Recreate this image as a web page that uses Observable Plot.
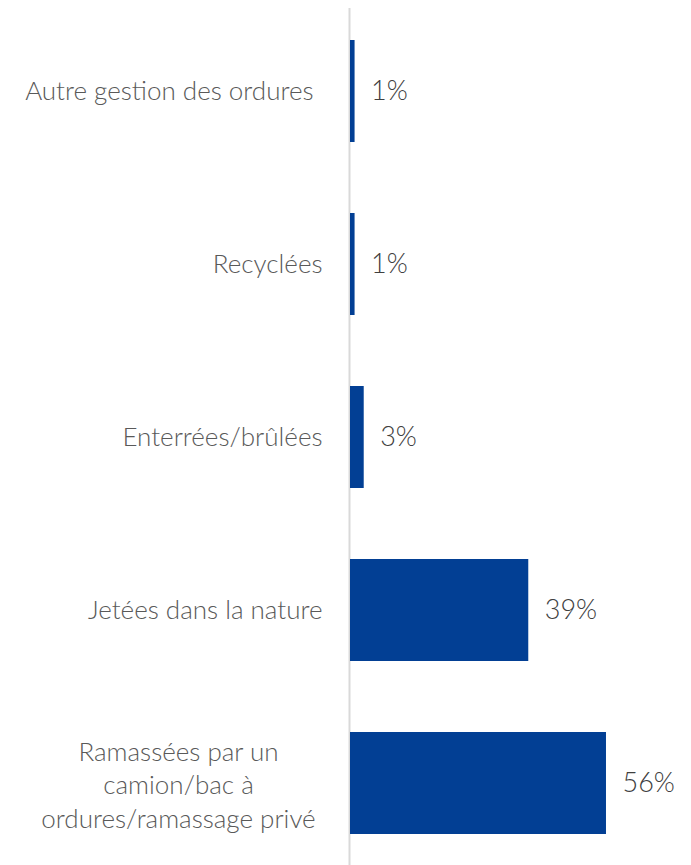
<!DOCTYPE html>
<html>
<head>
<meta charset="utf-8">
<script src="https://cdn.jsdelivr.net/npm/d3@7"></script>
<script src="https://cdn.jsdelivr.net/npm/@observablehq/plot@0.6"></script>
<style>
  html, body { margin: 0; padding: 0; background: #fff; }
  #chart svg { display: block; }
</style>
</head>
<body>
<div id="chart"></div>
<script>
const categories = [
  "Autre gestion des ordures",
  "Recyclées",
  "Enterrées/brûlées",
  "Jetées dans la nature",
  "Ramassées par un\ncamion/bac à\nordures/ramassage privé"
];
const values = [1, 1, 3, 39, 56];
const valueLabels = ["1%", "1%", "3%", "39%", "56%"];

const data = categories.map((c, i) => ({ cat: c, value: values[i], label: valueLabels[i] }));
const singleLine = data.filter(d => !d.cat.includes("\n") && d.cat !== categories[0]);
const firstLabel = data.filter(d => d.cat === categories[0]);
const multiLine = data.filter(d => d.cat.includes("\n"));

const font = "Lato, 'Open Sans', sans-serif";

const chart = Plot.plot({
  width: 691,
  height: 865,
  marginLeft: 350,
  marginRight: 0,
  marginTop: 8,
  marginBottom: 0,
  style: { fontFamily: font, background: "#fff" },
  x: { domain: [0, 74.6], axis: null },
  y: { domain: categories, axis: null, paddingInner: 0.411, paddingOuter: 0.179 },
  marks: [
    Plot.ruleX([0], { stroke: "#d9d9d9", strokeWidth: 2, dx: -1 }),
    Plot.barX(data, { x: "value", y: "cat", fill: "#023f94" }),
    Plot.text(data, {
      x: "value", y: "cat", text: "label", textAnchor: "start", dx: 16,
      fontSize: 27, fill: "#404040", fontWeight: 300
    }),
    Plot.text(singleLine, {
      x: 0, y: "cat", text: "cat", textAnchor: "end", dx: -28,
      fontSize: 26, fill: "#595959", fontWeight: 300
    }),
    Plot.text(firstLabel, {
      x: 0, y: "cat", text: "cat", textAnchor: "end", dx: -37,
      fontSize: 26, fill: "#595959", fontWeight: 300
    }),
    Plot.text(multiLine, {
      x: 0, y: "cat", text: "cat", textAnchor: "middle", dx: -172,
      fontSize: 26, fill: "#595959", fontWeight: 300, lineHeight: 1.3
    })
  ]
});
document.getElementById("chart").appendChild(chart);
</script>
</body>
</html>
